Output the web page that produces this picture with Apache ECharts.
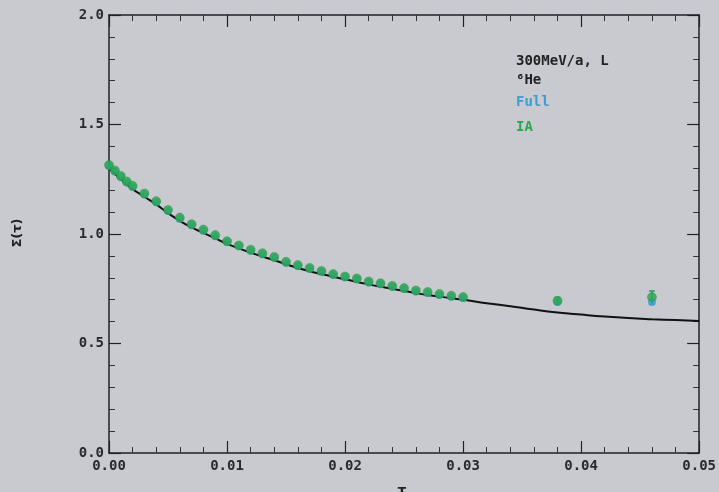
<!DOCTYPE html>
<html>
<head>
<meta charset="utf-8">
<script src="https://cdn.jsdelivr.net/npm/echarts@6/dist/echarts.min.js"></script>
<style>
html,body{margin:0;padding:0;background:#c9c9d0;}
#c{width:719px;height:492px;}
</style>
</head>
<body>
<div id="c"></div>
<script>
// Data
const iaX = [0, 0.0005, 0.001, 0.0015, 0.002, 0.003, 0.004, 0.005, 0.006, 0.007, 0.008, 0.009, 0.010, 0.011, 0.012, 0.013, 0.014, 0.015, 0.016, 0.017, 0.018, 0.019, 0.020, 0.021, 0.022, 0.023, 0.024, 0.025, 0.026, 0.027, 0.028, 0.029, 0.030, 0.038, 0.046];
const iaY = [1.315, 1.29, 1.265, 1.24, 1.22, 1.185, 1.15, 1.11, 1.075, 1.045, 1.02, 0.995, 0.967, 0.948, 0.928, 0.912, 0.895, 0.873, 0.858, 0.845, 0.831, 0.817, 0.806, 0.797, 0.783, 0.775, 0.763, 0.753, 0.742, 0.735, 0.726, 0.718, 0.712, 0.695, 0.712];
const fullY = [1.31, 1.285, 1.26, 1.235, 1.215, 1.18, 1.145, 1.105, 1.07, 1.04, 1.015, 0.99, 0.963, 0.944, 0.924, 0.908, 0.891, 0.869, 0.854, 0.841, 0.827, 0.813, 0.802, 0.793, 0.779, 0.771, 0.759, 0.749, 0.738, 0.731, 0.722, 0.714, 0.708, 0.69, 0.69];
const errX = [0.038, 0.046];
const errLo = [0.68, 0.68];
const errHi = [0.71, 0.74];
const lineX = [0, 0.001, 0.002, 0.003, 0.004, 0.005, 0.006, 0.007, 0.008, 0.009, 0.010, 0.012, 0.014, 0.016, 0.018, 0.020, 0.022, 0.024, 0.026, 0.028, 0.030, 0.032, 0.034, 0.036, 0.038, 0.040, 0.042, 0.044, 0.046, 0.048, 0.050];
const lineY = [1.30, 1.25, 1.205, 1.17, 1.135, 1.095, 1.06, 1.03, 1.005, 0.98, 0.955, 0.915, 0.88, 0.845, 0.817, 0.793, 0.77, 0.75, 0.73, 0.714, 0.70, 0.684, 0.67, 0.655, 0.642, 0.632, 0.623, 0.616, 0.611, 0.607, 0.603];
const xTicks = ['0.00', '0.01', '0.02', '0.03', '0.04', '0.05'];
const yTicks = ['0.0', '0.5', '1.0', '1.5', '2.0'];
const notes = ['300MeV/a, L', '\u2076He', 'Full', 'IA'];

const chart = echarts.init(document.getElementById('c'));
const pair = (xs, ys) => xs.map((x, i) => [x, ys[i]]);
const tickFont = {fontFamily: 'DejaVu Sans Mono', fontSize: 14, fontWeight: 'bold', color: '#2a2a2e'};
const baseAxis = {
  axisLine: {show: true, onZero: false, lineStyle: {color: '#222', width: 1.5}},
  axisTick: {show: true, inside: true, length: 12, lineStyle: {color: '#222', width: 1.2}},
  minorTick: {show: true, splitNumber: 5, length: 6, lineStyle: {color: '#333', width: 1}},
  splitLine: {show: false}
};
const option = {
  backgroundColor: '#c9c9d0',
  animation: false,
  grid: {left: 109, right: 19, top: 15, bottom: 39},
  xAxis: [
    Object.assign({}, baseAxis, {type: 'value', min: 0, max: 0.05, interval: 0.01, position: 'bottom',
      axisLabel: Object.assign({margin: 6, formatter: (v) => xTicks[Math.round(v / 0.01)]}, tickFont)}),
    Object.assign({}, baseAxis, {type: 'value', min: 0, max: 0.05, interval: 0.01, position: 'top',
      axisLabel: {show: false}})
  ],
  yAxis: [
    Object.assign({}, baseAxis, {type: 'value', min: 0, max: 2, interval: 0.5, position: 'left',
      axisLabel: Object.assign({margin: 5, formatter: (v) => yTicks[Math.round(v / 0.5)]}, tickFont)}),
    Object.assign({}, baseAxis, {type: 'value', min: 0, max: 2, interval: 0.5, position: 'right',
      axisLabel: {show: false}})
  ],
  series: [
    {type: 'line', data: pair(lineX, lineY), smooth: true, symbol: 'none',
      lineStyle: {color: '#111', width: 2}, z: 2},
    {type: 'custom', name: 'err', z: 3,
      renderItem: function (params, api) {
        const x = api.value(0);
        const lo = api.coord([x, api.value(1)]);
        const hi = api.coord([x, api.value(2)]);
        return {type: 'group', children: [
          {type: 'line', shape: {x1: lo[0], y1: lo[1], x2: hi[0], y2: hi[1]}, style: {stroke: '#3a9fd0', lineWidth: 2}},
          {type: 'line', shape: {x1: lo[0] - 3, y1: lo[1], x2: lo[0] + 3, y2: lo[1]}, style: {stroke: '#3a9fd0', lineWidth: 1.5}},
          {type: 'line', shape: {x1: hi[0] - 3, y1: hi[1], x2: hi[0] + 3, y2: hi[1]}, style: {stroke: '#2aa84a', lineWidth: 1.5}}
        ]};
      },
      data: errX.map((x, i) => [x, errLo[i], errHi[i]])},
    {type: 'scatter', name: 'Full', data: pair(iaX, fullY), symbol: 'circle', symbolSize: 8,
      itemStyle: {color: '#3a9fd0'}, z: 4},
    {type: 'scatter', name: 'IA', data: pair(iaX, iaY), symbol: 'circle', symbolSize: 9,
      itemStyle: {color: '#2aa84a', borderColor: '#1f8a3c', borderWidth: 0.5}, z: 5}
  ],
  graphic: [
    {type: 'text', left: 516, top: 54, style: {text: notes[0], font: 'bold 14px "DejaVu Sans Mono"', fill: '#222'}},
    {type: 'text', left: 516, top: 73, style: {text: notes[1], font: 'bold 14px "DejaVu Sans Mono"', fill: '#222'}},
    {type: 'text', left: 516, top: 95, style: {text: notes[2], font: 'bold 14px "DejaVu Sans Mono"', fill: '#3a9fd0'}},
    {type: 'text', left: 516, top: 120, style: {text: notes[3], font: 'bold 14px "DejaVu Sans Mono"', fill: '#2aa84a'}},
    {type: 'text', x: 18, y: 233, rotation: Math.PI / 2, style: {text: '\u03a3(\u03c4)', font: 'bold 13px "DejaVu Sans"', fill: '#222', align: 'center', verticalAlign: 'middle'}},
    {type: 'text', x: 402, y: 484, style: {text: '\u03c4', font: 'bold 14px "DejaVu Sans"', fill: '#222', align: 'center', verticalAlign: 'top'}}
  ]
};
chart.setOption(option);
</script>
</body>
</html>
